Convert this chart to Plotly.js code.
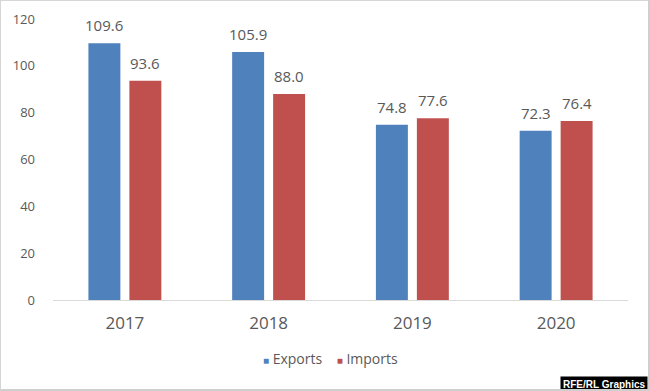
<!DOCTYPE html>
<html><head><meta charset="utf-8">
<script src="https://cdn.plot.ly/plotly-3.0.1.min.js"></script>
<style>
html,body{margin:0;padding:0;background:#fff;}
#wrap{width:650px;height:391px;box-sizing:border-box;border:1px solid #d6d6d6;border-right:2px solid #cfcfcf;border-bottom:2px solid #cfcfcf;position:relative;overflow:hidden;}
#chart{position:absolute;left:-1px;top:-1px;width:650px;height:391px;}
</style></head>
<body>
<div id="wrap"><div id="chart"></div></div>
<script>
const years = ['2017', '2018', '2019', '2020'];
const exportsVals = [109.6, 105.9, 74.8, 72.3];
const importsVals = [93.6, 88.0, 77.6, 76.4];
const seriesNames = ['Exports', 'Imports'];
const seriesColors = ['#4f81bd', '#c0504d'];
const yTicks = [0, 20, 40, 60, 80, 100, 120];

const grey = '#595959';
const font = 'Open Sans, Liberation Sans, sans-serif';

const traces = [
  {type:'bar', name:seriesNames[0], x:years, y:exportsVals, marker:{color:seriesColors[0]}, hoverinfo:'none', showlegend:false},
  {type:'bar', name:seriesNames[1], x:years, y:importsVals, marker:{color:seriesColors[1]}, hoverinfo:'none', showlegend:false}
];

const annotations = [];
[[exportsVals, -20.5], [importsVals, 20.5]].forEach(([vals, dx]) => {
  vals.forEach((v, i) => annotations.push({
    x: i, y: v, xref:'x', yref:'y', text: v.toFixed(1), showarrow:false,
    xshift: dx, yshift: 18, font:{size:15, color:grey, family:font}
  }));
});
// legend
const legendText = seriesNames.map((n, i) =>
  '<span style="color:' + seriesColors[i] + ';font-size:10px">■</span> ' + n).join('&nbsp;&nbsp;&nbsp;&nbsp;');
annotations.push({
  xref:'paper', yref:'paper', x:0.5, y:0, xanchor:'center', yanchor:'middle', yshift:-58, xshift:-10,
  text: legendText, showarrow:false, font:{size:14, color:grey, family:font}
});
annotations.push({
  xref:'paper', yref:'paper', x:1.0, y:0, xanchor:'right', yanchor:'top', yshift:-76, xshift:20,
  text:'<b>RFE/RL Graphics</b>', showarrow:false, bgcolor:'#000', borderpad:2,
  font:{size:10, color:'#fff', family:'Liberation Sans, Arial, sans-serif'}
});

const layout = {
  width:650, height:391,
  margin:{l:53, r:22, t:19, b:91},
  paper_bgcolor:'#fff', plot_bgcolor:'#fff',
  barmode:'group', bargap:0.43, bargroupgap:0.22,
  font:{family:font, color:grey},
  showlegend:false,
  xaxis:{type:'category', showgrid:false, showline:true, linecolor:'#d9d9d9', linewidth:1,
         ticks:'', tickfont:{size:17, color:grey, family:font}, ticklabelstandoff:8},
  yaxis:{range:[0,120], tickvals:yTicks, ticktext:yTicks.map(String), showgrid:false,
         zeroline:false, showline:false, ticks:'', tickfont:{size:13, color:grey, family:font},
         ticklabelstandoff:17},
  annotations:annotations
};

Plotly.newPlot('chart', traces, layout, {displayModeBar:false, staticPlot:true});
</script>
</body></html>
